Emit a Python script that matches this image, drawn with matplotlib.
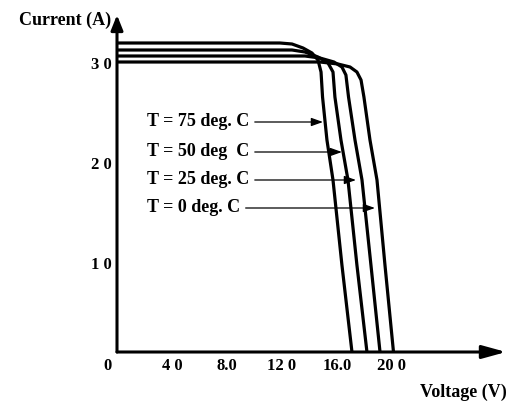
import numpy as np
import matplotlib
matplotlib.use('Agg')
import matplotlib.pyplot as plt
from matplotlib.transforms import ScaledTranslation

plt.rcParams['font.family'] = ['Liberation Serif', 'DejaVu Serif']
plt.rcParams['font.weight'] = 'bold'

# I-V curves (voltage in V, current in A)
v_75 = [0, 11.85, 12.73, 13.53, 14.18, 14.62, 14.84, 14.95, 15.27, 15.71, 16.36, 17.09]
i_75 = [30.9, 30.9, 30.8, 30.4, 29.9, 29.2, 28.0, 25.5, 21.2, 17.2, 8.7, 0]
v_50 = [0, 12.73, 13.67, 14.62, 15.35, 15.71, 15.85, 16.29, 16.8, 17.45, 18.18]
i_50 = [30.2, 30.2, 30.0, 29.5, 28.9, 28.0, 25.5, 21.2, 17.2, 8.7, 0]
v_25 = [0, 13.67, 14.76, 15.78, 16.36, 16.65, 16.84, 17.31, 17.82, 18.47, 19.13]
i_25 = [29.6, 29.6, 29.4, 29.0, 28.5, 27.7, 25.5, 21.2, 17.2, 8.7, 0]
v_0 = [0, 14.76, 16.07, 16.95, 17.45, 17.75, 17.96, 18.4, 18.91, 19.49, 20.11]
i_0 = [29.0, 29.0, 28.8, 28.5, 28.0, 27.2, 25.5, 21.2, 17.2, 8.7, 0]

labels = ['T = 75 deg. C', 'T = 50 deg  C', 'T = 25 deg. C', 'T = 0 deg. C']
label_y = [23.0, 20.0, 17.2, 14.4]
arrow_v = [14.98, 16.36, 17.38, 18.76]

xticks = [4, 8, 12, 16, 20]
xtick_labels = ['4 0', '8.0', '12 0', '16.0', '20 0']
yticks = [10, 20, 30]
ytick_labels = ['1 0', '2 0', '3 0']

fig = plt.figure(figsize=(5.12, 4.05), dpi=100)
ax = fig.add_axes([117 / 512, 53 / 405, 395 / 512, 352 / 405])
ax.set_xlim(0, 28.73)
ax.set_ylim(0, 35.2)
for s in ax.spines.values():
    s.set_visible(False)

for v, i in [(v_75, i_75), (v_50, i_50), (v_25, i_25), (v_0, i_0)]:
    ax.plot(v, i, color='black', lw=2.3, solid_joinstyle='round', solid_capstyle='butt', clip_on=False)

# axes drawn as arrows
ax.annotate('', xy=(28.3, 0), xytext=(0, 0),
            arrowprops=dict(arrowstyle='-|>,head_length=0.8,head_width=0.22', lw=2.2,
                            color='black', mutation_scale=18, shrinkA=0, shrinkB=0))
ax.annotate('', xy=(0, 33.7), xytext=(0, 0),
            arrowprops=dict(arrowstyle='-|>,head_length=0.5,head_width=0.2', lw=2.2,
                            color='black', mutation_scale=18, shrinkA=0, shrinkB=0))

for lab, y, v in zip(labels, label_y, arrow_v):
    ax.annotate(lab, xy=(v, y), xytext=(2.18, y), ha='left', va='center', fontsize=13,
                arrowprops=dict(arrowstyle='-|>,head_length=0.7,head_width=0.25', lw=0.9,
                                color='black', mutation_scale=10, shrinkB=0))

ax.set_xticks(xticks)
ax.set_xticklabels(xtick_labels, fontsize=12)
ax.set_yticks(yticks)
ax.set_yticklabels(ytick_labels, fontsize=12)
ax.tick_params(length=0, pad=4)
for lbl in ax.get_yticklabels():
    lbl.set_transform(lbl.get_transform() + ScaledTranslation(0, -8 / 72, fig.dpi_scale_trans))

ax.annotate('0', xy=(0, 0), xytext=(-6.5, -10), textcoords='offset points',
            ha='center', va='center', fontsize=12)
ax.text(-0.4, 33.2, 'Current (A)', ha='right', va='center', fontsize=13)
ax.text(28.36, -4.0, 'Voltage (V)', ha='right', va='center', fontsize=13)

fig.savefig('out.png', dpi=100)
